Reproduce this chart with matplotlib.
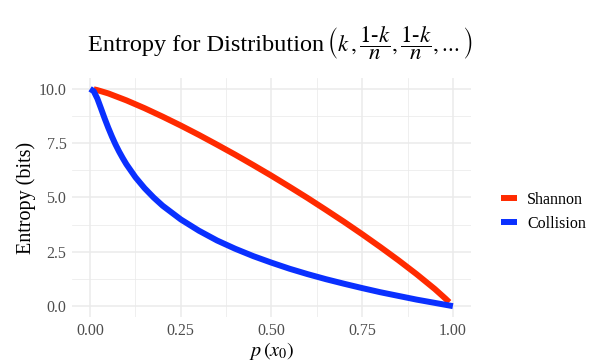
import matplotlib
matplotlib.use("Agg")
import matplotlib.pyplot as plt
from matplotlib.ticker import MultipleLocator

# valeurs
k_shannon = [0.01, 0.02, 0.05, 0.10, 0.15, 0.20, 0.25, 0.30, 0.35, 0.40, 0.45, 0.50,
             0.55, 0.60, 0.65, 0.70, 0.75, 0.80, 0.85, 0.90, 0.95, 0.96, 0.97, 0.98, 0.99]
shannon = [9.98, 9.94, 9.79, 9.47, 9.11, 8.72, 8.31, 7.88, 7.43, 6.97, 6.49, 6.00,
           5.49, 4.97, 4.43, 3.88, 3.31, 2.72, 2.11, 1.47, 0.79, 0.64, 0.49, 0.34, 0.18]

k_collision = [0.00, 0.01, 0.02, 0.03, 0.04, 0.05, 0.06, 0.07, 0.08, 0.09, 0.10, 0.125,
               0.15, 0.175, 0.20, 0.25, 0.30, 0.35, 0.40, 0.45, 0.50, 0.55, 0.60, 0.65,
               0.70, 0.75, 0.80, 0.85, 0.90, 0.95, 1.00]
collision = [10.0, 9.89, 9.55, 9.10, 8.64, 8.21, 7.81, 7.44, 7.11, 6.81, 6.53, 5.93,
             5.43, 5.00, 4.62, 3.99, 3.47, 3.02, 2.64, 2.30, 2.00, 1.72, 1.47, 1.24,
             1.03, 0.83, 0.64, 0.47, 0.30, 0.15, 0.00]

x_ticks = [0.00, 0.25, 0.50, 0.75, 1.00]
y_ticks = [0.0, 2.5, 5.0, 7.5, 10.0]

plt.rcParams['font.family'] = 'serif'
plt.rcParams['font.serif'] = ['Liberation Serif', 'DejaVu Serif']
plt.rcParams['mathtext.fontset'] = 'stix'

fig = plt.figure(figsize=(5.89, 3.61), dpi=100)
ax = fig.add_axes([0.1222, 0.1219, 0.6775, 0.6621])

ax.plot(k_shannon, shannon, color='#FF2A00', lw=4.3, solid_capstyle='butt', label='Shannon', zorder=3)
ax.plot(k_collision, collision, color='#0A30FF', lw=4.3, solid_capstyle='butt', label='Collision', zorder=4)

ax.set_xlim(-0.05, 1.05)
ax.set_ylim(-0.5, 10.5)
ax.set_xticks(x_ticks)
ax.set_xticklabels(['%.2f' % v for v in x_ticks])
ax.set_yticks(y_ticks)
ax.set_yticklabels(['%.1f' % v for v in y_ticks])
ax.xaxis.set_minor_locator(MultipleLocator(0.125))
ax.yaxis.set_minor_locator(MultipleLocator(1.25))

ax.grid(True, which='major', color='#EBEBEB', lw=1.1)
ax.grid(True, which='minor', color='#EBEBEB', lw=0.55)
ax.set_axisbelow(True)
for s in ax.spines.values():
    s.set_visible(False)
ax.tick_params(which='both', length=0, labelsize=11.5, labelcolor='#4D4D4D', pad=4)

ax.set_xlabel(r'$p\,(x_0)$', fontsize=14.5, labelpad=1)
ax.set_ylabel('Entropy (bits)', fontsize=14.5, labelpad=2)

# titre en deux morceaux : texte puis formule
fig.text(324 / 589, 1 - 45 / 361, 'Entropy for Distribution',
         fontsize=17.5, ha='right', va='center')
fig.text(327 / 589, 1 - 43 / 361,
         r'$\left(k\,,\dfrac{\mathit{1}\text{-}k}{n},\dfrac{\mathit{1}\text{-}k}{n},.\!.\!.\right)$',
         fontsize=16.5, ha='left', va='center')

fig.legend(loc='center left', bbox_to_anchor=(487 / 589, 1 - 212 / 361), frameon=False,
           fontsize=11.5, handlelength=1.0, labelspacing=0.5, handletextpad=0.6)

fig.savefig('out.png', dpi=100)
